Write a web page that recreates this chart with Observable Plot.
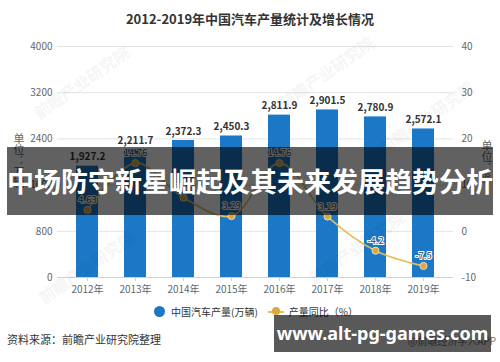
<!DOCTYPE html>
<html><head><meta charset="utf-8">
<script src="https://cdn.jsdelivr.net/npm/d3@7"></script>
<script src="https://cdn.jsdelivr.net/npm/@observablehq/plot@0.6"></script>
<style>
body{margin:0;background:#fff;}
#wrap{position:relative;width:500px;height:362px;overflow:hidden;font-family:"Noto Sans CJK SC","Noto Sans",sans-serif;}
#wrap svg{position:absolute;left:0;top:0;}
.abs{position:absolute;white-space:nowrap;}
#title{left:0;width:500px;top:9px;text-align:center;font-size:13px;font-weight:bold;color:#333;}
.wm{color:#000;opacity:0.035;font-size:16px;font-weight:bold;transform:rotate(-35deg);}
#band{left:7px;top:147px;width:486px;height:68px;background:rgba(0,0,0,0.62);color:#fff;font-size:27px;font-weight:bold;line-height:68px;text-align:center;}
#url{left:274px;top:315px;width:217px;height:37px;background:rgba(0,0,0,0.65);color:#fff;font-family:"Noto Sans",sans-serif;font-size:18px;font-weight:bold;line-height:37px;text-align:center;}
</style></head><body><div id="wrap"></div>
<script>
const years = ["2012年","2013年","2014年","2015年","2016年","2017年","2018年","2019年"];
const production = [1927.2, 2211.7, 2372.3, 2450.3, 2811.9, 2901.5, 2780.9, 2572.1];
const growth = [4.63, 14.76, 7.26, 3.29, 14.76, 3.19, -4.2, -7.5];
const leftTicks = [0, 800, 1600, 2400, 3200, 4000];
const rightTicks = [-10, 0, 10, 20, 30, 40];
const titleText = "2012-2019年中国汽车产量统计及增长情况";
const seriesNames = ["中国汽车产量(万辆)", "产量同比（%）"];
const sourceText = "资料来源：前瞻产业研究院整理";
const bannerText = "中场防守新星崛起及其未来发展趋势分析";
const urlText = "www.alt-pg-games.com";

const barColor = "#1b78c6";
const lineColor = "#e6bb5a";
const dotColor = "#dba93c";

// right axis (-10..40) mapped onto left axis (0..4000)
const toLeft = g => (g + 10) * 80;
const rows = years.map((y, i) => ({year: y, prod: production[i], g: growth[i], gl: toLeft(growth[i])}));

const chart = Plot.plot({
  width: 500, height: 362,
  marginLeft: 57, marginRight: 47, marginTop: 46, marginBottom: 85,
  style: {fontFamily: '"Noto Sans CJK SC","Noto Sans",sans-serif', fontSize: "10px", background: "transparent"},
  x: {domain: years, type: "band", paddingInner: 0.54, paddingOuter: 0.27, insetLeft: 6, insetRight: 6},
  y: {domain: [0, 4000]},
  marks: [
    Plot.ruleY(leftTicks.slice(1), {stroke: "#e3e3e3", strokeWidth: 1}),
    Plot.ruleY([0], {stroke: "#cfcfcf", strokeWidth: 1}),
    Plot.barY(rows, {x: "year", y: "prod", fill: barColor}),
    Plot.text(rows, {x: "year", y: "prod", text: d => d3.format(",.1f")(d.prod), dy: -9, fill: "#333", fontWeight: "bold", fontSize: 10}),
    Plot.line(rows, {x: "year", y: "gl", stroke: lineColor, strokeWidth: 1.6, curve: "catmull-rom"}),
    Plot.dot(rows, {x: "year", y: "gl", r: 3.6, fill: dotColor, stroke: "#fff", strokeWidth: 0.6}),
    Plot.text(rows, {x: "year", y: "gl", text: d => String(d.g), dy: -10, fill: "#444", stroke: "#fff", strokeWidth: 2, fontSize: 9.5}),
    Plot.axisX({tickSize: 4, tickPadding: 4, stroke: "#cfcfcf", color: "#666", label: null, fontSize: 10}),
    Plot.axisY(leftTicks, {anchor: "left", tickSize: 0, tickPadding: 5, color: "#666", label: null, fontSize: 10, tickFormat: d3.format("d")}),
    Plot.axisY(rightTicks.map(toLeft), {anchor: "right", tickSize: 0, tickPadding: 8, color: "#666", label: null, fontSize: 10, tickFormat: v => String(Math.round(v / 80 - 10))})
  ]
});

const wrap = document.getElementById("wrap");
wrap.appendChild(chart);

function add(cls, id, text, style) {
  const d = document.createElement("div");
  d.className = "abs " + (cls || "");
  if (id) d.id = id;
  d.textContent = text;
  if (style) Object.assign(d.style, style);
  wrap.appendChild(d);
  return d;
}
// watermarks
[[25,70],[270,60],[370,105],[30,255],[300,235]].forEach(([x,y]) =>
  add("wm", null, "前瞻产业研究院", {left: x + "px", top: y + "px"}));

add("", "title", titleText);
// axis titles
add("", null, "单位：万辆", {left: "11px", top: "133px", fontSize: "11px", color: "#666", writingMode: "vertical-rl"});
add("", null, "单位：%", {left: "479px", top: "140px", fontSize: "11px", color: "#666", writingMode: "vertical-rl"});

// legend
const leg = document.createElement("div");
leg.className = "abs";
Object.assign(leg.style, {left: "154px", top: "304px", fontSize: "10px", color: "#333", display: "flex", alignItems: "center"});
leg.innerHTML =
  `<span style="display:inline-block;width:11px;height:11px;border-radius:50%;background:${barColor};margin-right:6px"></span>` +
  `<span>${seriesNames[0]}</span>` +
  `<span style="position:relative;display:inline-block;width:16px;height:11px;margin:0 5px 0 10px">` +
  `<span style="position:absolute;left:0;top:5px;width:16px;height:2px;background:${lineColor}"></span>` +
  `<span style="position:absolute;left:4px;top:1px;width:8px;height:8px;border-radius:50%;background:${dotColor}"></span></span>` +
  `<span>${seriesNames[1]}</span>`;
wrap.appendChild(leg);

add("", null, sourceText, {left: "7px", top: "331px", fontSize: "11px", color: "#333"});
add("", null, "@前瞻经济学人APP", {left: "408px", top: "333px", fontSize: "10px", color: "#777"});

add("", "band", bannerText);
add("", "url", urlText);
</script>
</body></html>
